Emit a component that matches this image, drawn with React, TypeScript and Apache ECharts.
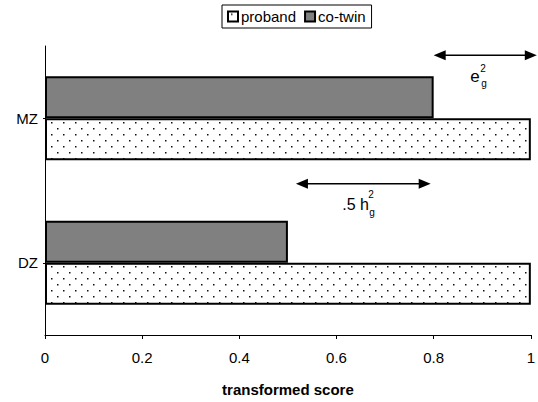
import React, { useEffect, useRef } from "react";
import * as echarts from "echarts";

const categories = ["DZ", "MZ"];
const probandValues = [1, 1];
const coTwinValues = [0.5, 0.8];
const seriesNames = ["proband", "co-twin"];
// annotation ranges in data units
const eRange = [0.8, 1.0];
const hRange = [0.5, 0.8];

function makeDotPattern(): string {
  const c = document.createElement("canvas");
  c.width = 12;
  c.height = 12;
  const ctx = c.getContext("2d")!;
  ctx.fillStyle = "#ffffff";
  ctx.fillRect(0, 0, 12, 12);
  ctx.fillStyle = "#111111";
  ctx.fillRect(3, 2, 1.5, 1.5);
  ctx.fillRect(9, 8, 1.5, 1.5);
  return c.toDataURL();
}

const FONT = "'Liberation Sans', Arial, sans-serif";

function arrow(x1: number, x2: number, y: number) {
  const hl = 12;
  const hw = 5;
  return [
    {
      type: "line",
      shape: { x1: x1 + hl - 1, y1: y, x2: x2 - hl + 1, y2: y },
      style: { stroke: "#000", lineWidth: 1.5 },
    },
    {
      type: "polygon",
      shape: { points: [[x1, y], [x1 + hl, y - hw], [x1 + hl, y + hw]] },
      style: { fill: "#000" },
    },
    {
      type: "polygon",
      shape: { points: [[x2, y], [x2 - hl, y - hw], [x2 - hl, y + hw]] },
      style: { fill: "#000" },
    },
  ];
}

function txt(text: string, x: number, y: number, size: number, align = "left") {
  return {
    type: "text",
    x,
    y,
    style: {
      text,
      fill: "#000",
      font: `${size}px ${FONT}`,
      textAlign: align,
      textVerticalAlign: "middle",
    },
  };
}

export default function App() {
  const ref = useRef<HTMLDivElement>(null);
  useEffect(() => {
    document.body.style.margin = "0";
    const chart = echarts.init(ref.current!, null, { renderer: "svg" });
    const pattern = {
      image: makeDotPattern(),
      repeat: "repeat",
      imageWidth: 12,
      imageHeight: 12,
    };
    chart.setOption({
      animation: false,
      textStyle: { fontFamily: FONT },
      legend: {
        data: seriesNames,
        top: 5,
        left: 222,
        orient: "horizontal",
        borderColor: "#000",
        borderWidth: 1,
        borderRadius: 0,
        padding: [4, 6, 4, 5],
        itemGap: 8,
        itemWidth: 10,
        itemHeight: 10,
        icon: "rect",
        textStyle: { fontSize: 15, color: "#000", fontFamily: FONT, padding: [0, 0, 0, -2] },
      },
      grid: { left: 45, right: 7, top: 46, bottom: 60, containLabel: false },
      xAxis: {
        type: "value",
        min: 0,
        max: 1,
        interval: 0.2,
        name: "transformed score",
        nameLocation: "middle",
        nameGap: 47,
        nameTextStyle: { fontSize: 15, fontWeight: "bold", color: "#000", fontFamily: FONT },
        axisLine: { show: true, lineStyle: { color: "#000", width: 1 } },
        axisTick: { show: true, length: 4, lineStyle: { color: "#000" } },
        axisLabel: { fontSize: 15, color: "#000", margin: 15, fontFamily: FONT },
        splitLine: { show: false },
      },
      yAxis: {
        type: "category",
        data: categories,
        axisLine: { show: true, lineStyle: { color: "#000", width: 1 } },
        axisTick: { show: true, alignWithLabel: true, length: 2, lineStyle: { color: "#000" } },
        axisLabel: { fontSize: 15, color: "#000", margin: 7, fontFamily: FONT },
        splitLine: { show: false },
      },
      series: [
        {
          name: "co-twin",
          type: "bar",
          data: coTwinValues,
          barWidth: 42,
          barGap: "0%",
          itemStyle: { color: "#808080", borderColor: "#000", borderWidth: 2 },
        },
        {
          name: "proband",
          type: "bar",
          data: probandValues,
          barWidth: 42,
          barGap: "0%",
          itemStyle: { color: pattern, borderColor: "#000", borderWidth: 2 },
        },
      ],
    });

    const px = (v: number) => chart.convertToPixel({ xAxisIndex: 0 }, v) as number;
    const mzY = chart.convertToPixel({ yAxisIndex: 0 }, "MZ") as number;
    const dzY = chart.convertToPixel({ yAxisIndex: 0 }, "DZ") as number;
    const eY = mzY - 63;
    const hY = dzY - 79;
    const ex1 = px(eRange[0]);
    const ex2 = px(eRange[1]) + 6;
    const hx1 = px(hRange[0]) + 8;
    const hx2 = px(hRange[1]) - 3;
    const eMid = (ex1 + ex2) / 2;
    const hMid = (hx1 + hx2) / 2;

    chart.setOption({
      graphic: [
        ...arrow(ex1, ex2, eY),
        ...arrow(hx1, hx2, hY),
        txt("e", eMid - 15, eY + 21, 17),
        txt("2", eMid - 5, eY + 13, 10),
        txt("g", eMid - 4, eY + 28, 10),
        txt(".5 h", hMid - 21, hY + 21, 16),
        txt("2", hMid + 5, hY + 11, 10),
        txt("g", hMid + 6, hY + 29, 10),
      ],
    });

    return () => chart.dispose();
  }, []);
  return <div ref={ref} style={{ width: 538, height: 402 }} />;
}
